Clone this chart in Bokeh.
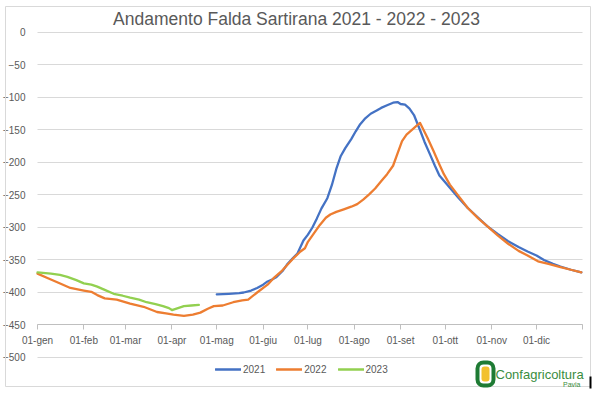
from bokeh.plotting import figure
from bokeh.models import (Range1d, LinearAxis, FixedTicker, Grid, Legend, LegendItem,
                          Label, BoxAnnotation)
from bokeh.embed import file_html
from bokeh.resources import INLINE

# ---------------- data (day of year, level) ----------------
days_2021 = [120, 128, 135, 138, 143, 147, 151, 154, 157, 160, 164, 167, 171, 174, 178, 181,
             184, 187, 190, 194, 197, 200, 203, 206, 210, 213, 216, 219, 223, 227, 230, 234,
             238, 241, 243, 246, 249, 252, 256, 259, 263, 266, 269, 272, 276, 282, 288, 295,
             301, 308, 315, 322, 328, 334, 339, 345, 350, 357, 364]
vals_2021 = [-403, -402, -401, -400, -397, -393, -388, -383, -380, -376, -367, -357, -347, -340, -320, -311,
             -300, -286, -271, -255, -235, -210, -190, -178, -164, -152, -141, -133, -125, -120, -116, -112,
             -108, -107, -110, -111, -117, -127, -150, -168, -189, -205, -220, -228, -239, -255, -270, -285,
             -298, -310, -321, -330, -337, -343, -350, -356, -360, -365, -369]

days_2022 = [0, 7, 14, 22, 31, 36, 40, 45, 53, 62, 71, 80, 86, 91, 98, 104, 109, 114, 118, 124,
             131, 137, 141, 147, 154, 158, 163, 171, 176, 179, 181, 185, 189, 193, 196, 200, 205,
             210, 214, 218, 222, 226, 230, 234, 238, 241, 244, 247, 251, 254, 256, 258, 261, 265,
             269, 272, 276, 281, 288, 295, 301, 308, 315, 322, 328, 335, 342, 350, 357, 364]
vals_2022 = [-371, -378, -385, -393, -397, -399, -404, -409, -411, -417, -422, -430, -432, -434, -436, -434,
             -431, -425, -421, -420, -415, -412, -411, -400, -388, -378, -368, -348, -337, -332, -322,
             -309, -296, -285, -280, -276, -272, -268, -264, -257, -249, -240, -229, -218, -205, -186,
             -167, -157, -149, -143, -139, -148, -162, -182, -203, -218, -234, -249, -270, -286, -298,
             -312, -325, -336, -343, -352, -356, -361, -365, -369]

days_2023 = [0, 9, 15, 20, 26, 31, 36, 40, 45, 51, 57, 62, 68, 73, 79, 84, 88, 90, 94, 98, 103, 108]
vals_2023 = [-369, -371, -373, -376, -381, -386, -388, -391, -396, -402, -405, -408, -411, -415,
             -418, -421, -424, -427, -424, -421, -420, -419]

month_days = [0, 31, 59, 90, 120, 151, 181, 212, 243, 273, 304, 334, 365]
month_labels = ["01-gen", "01-feb", "01-mar", "01-apr", "01-mag", "01-giu",
                "01-lug", "01-ago", "01-set", "01-ott", "01-nov", "01-dic", ""]
y_ticks = [0, -50, -100, -150, -200, -250, -300, -350, -400, -450, -500]

series_names = ["2021", "2022", "2023"]
series_colors = ["#4472C4", "#ED7D31", "#92D050"]

FONT = "Liberation Sans"
GREY = "#595959"

W, H = 596, 393

# ---------------- figure ----------------
p = figure(width=W, height=H, output_backend="svg", toolbar_location=None,
           x_axis_type=None, y_axis_type=None, title=None,
           x_range=Range1d(-24.77, 374.16), y_range=Range1d(-555.4, 49.23),
           min_border=0, min_border_left=0, min_border_right=0,
           min_border_top=0, min_border_bottom=0)
p.outline_line_color = None
p.background_fill_color = "white"
p.border_fill_color = "white"

grid = Grid(dimension=1, ticker=FixedTicker(ticks=y_ticks), cross_bounds=(0, 365),
            grid_line_color="#d9d9d9", grid_line_width=1)
p.add_layout(grid, "center")

yaxis = LinearAxis(ticker=FixedTicker(ticks=y_ticks), fixed_location=0, bounds=(-500, 0),
                   axis_line_color=None, major_tick_line_color=None, minor_tick_line_color=None,
                   major_tick_out=0, major_tick_in=0, major_label_standoff=12,
                   major_label_text_font=FONT, major_label_text_font_size="10px",
                   major_label_text_color=GREY)
p.add_layout(yaxis, "left")

xaxis = LinearAxis(ticker=FixedTicker(ticks=month_days), fixed_location=-450, bounds=(0, 365),
                   major_label_overrides={d: l for d, l in zip(month_days, month_labels)},
                   axis_line_color="#bfbfbf", major_tick_line_color="#bfbfbf",
                   minor_tick_line_color=None, major_tick_out=5, major_tick_in=0,
                   major_label_standoff=5, major_label_text_font=FONT,
                   major_label_text_font_size="10px", major_label_text_color=GREY)
p.add_layout(xaxis, "below")

renderers = []
for d, v, c in zip([days_2021, days_2022, days_2023], [vals_2021, vals_2022, vals_2023], series_colors):
    r = p.line(d, v, line_color=c, line_width=2.3, line_join="round", line_cap="round")
    renderers.append(r)

legend = Legend(items=[LegendItem(label=n, renderers=[r]) for n, r in zip(series_names, renderers)],
                orientation="horizontal", location=(215, 18), glyph_width=26, glyph_height=12,
                label_standoff=2, spacing=11, padding=0, margin=0,
                label_text_font=FONT, label_text_font_size="10px", label_text_color=GREY,
                border_line_color=None, background_fill_alpha=0)
p.add_layout(legend, "center")

# title
p.add_layout(Label(x=296, y=375, x_units="screen", y_units="screen",
                   text="Andamento Falda Sartirana 2021 - 2022 - 2023",
                   text_align="center", text_baseline="middle",
                   text_font=FONT, text_font_size="17.5px", text_color=GREY))

# chart border
p.add_layout(BoxAnnotation(left=5, right=590, top=387, bottom=7,
                           left_units="screen", right_units="screen",
                           top_units="screen", bottom_units="screen",
                           fill_alpha=0, line_color="#d9d9d9", line_alpha=1, line_width=1))

# logo
p.add_layout(BoxAnnotation(left=477, right=493, top=31, bottom=8,
                           left_units="screen", right_units="screen",
                           top_units="screen", bottom_units="screen",
                           fill_color="white", fill_alpha=1, line_color="#1e7b34",
                           line_alpha=1, line_width=4, border_radius=6))
p.add_layout(BoxAnnotation(left=481, right=489, top=27, bottom=12,
                           left_units="screen", right_units="screen",
                           top_units="screen", bottom_units="screen",
                           fill_color="#F2C12E", fill_alpha=1, line_color=None,
                           border_radius=3))
p.add_layout(Label(x=495, y=19, x_units="screen", y_units="screen", text="Confagricoltura",
                   text_baseline="middle", text_font=FONT, text_font_size="13px",
                   text_color="#3a8d40"))
p.add_layout(Label(x=580, y=9, x_units="screen", y_units="screen", text="Pavia",
                   text_align="right", text_baseline="middle", text_font=FONT,
                   text_font_size="7px", text_color="#3a8d40"))
# small black mark at the right edge
p.add_layout(BoxAnnotation(left=589, right=591, top=17, bottom=5,
                           left_units="screen", right_units="screen",
                           top_units="screen", bottom_units="screen",
                           fill_color="black", fill_alpha=1, line_color=None))

open("out.html", "w").write(file_html(p, INLINE))
